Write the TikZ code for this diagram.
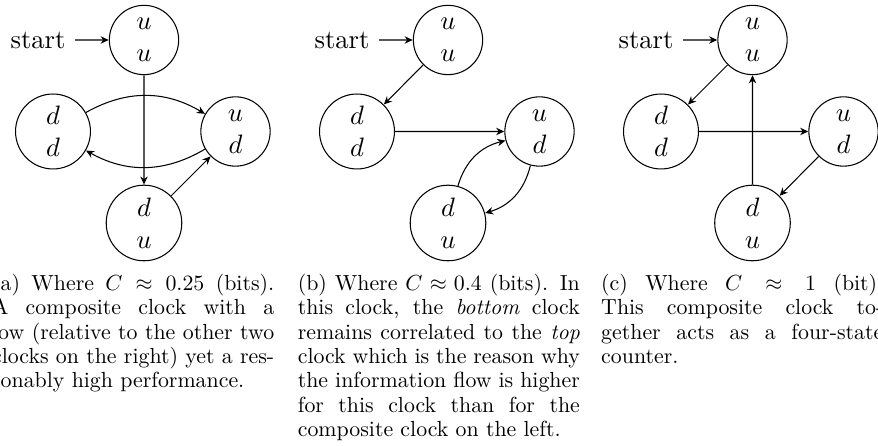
\documentclass[tikz,border=0pt]{standalone}
\usetikzlibrary{arrows.meta}
\begin{document}
\begin{tikzpicture}[x=0.4577pt,y=0.4577pt,
  line width=0.48pt,
  >={Stealth[length=3.7pt,width=3.4pt,inset=1.2pt]},
  st/.style={circle,draw,align=center,scale=1.219,line width=0.48pt},
  starttxt/.style={scale=1.219,anchor=east},
  conn/.style={->},
  captxt/.style={text width=129.1pt,inner sep=0pt,anchor=base west,align=justify,
    font=\fontsize{10}{11.12}\selectfont}]
\useasboundingbox (0,0) rectangle (878,446);

% ---------- (a) ----------
\node[st] (aT) at (144,406) {$u$\\$u$};
\node[st] (aL) at (53,314.5) {$d$\\$d$};
\node[st] (aR) at (235.5,314.5) {$u$\\$d$};
\node[st] (aB) at (144,223) {$d$\\$u$};
\node[starttxt] (aS) at (75,406) {start};
\draw[conn] (aS) -- (aT);
\draw[conn] (aT) -- (aB);
\draw[conn] (aL) to[bend left] (aR);
\draw[conn] (aR) to[bend left] (aL);
\draw[conn] (aB) -- (aR);

% ---------- (b) ----------
\node[st] (bT) at (448,406) {$u$\\$u$};
\node[st] (bL) at (357,314.5) {$d$\\$d$};
\node[st] (bR) at (539.5,314.5) {$u$\\$d$};
\node[st] (bB) at (448,223) {$d$\\$u$};
\node[starttxt] (bS) at (379,406) {start};
\draw[conn] (bS) -- (bT);
\draw[conn] (bT) -- (bL);
\draw[conn] (bL) -- (bR);
\draw[conn] (bB) to[bend left] (bR);
\draw[conn] (bR) to[bend left] (bB);

% ---------- (c) ----------
\node[st] (cT) at (752.5,406) {$u$\\$u$};
\node[st] (cL) at (661,314.5) {$d$\\$d$};
\node[st] (cR) at (843.5,314.5) {$u$\\$d$};
\node[st] (cB) at (752.5,223) {$d$\\$u$};
\node[starttxt] (cS) at (683,406) {start};
\draw[conn] (cS) -- (cT);
\draw[conn] (cT) -- (cL);
\draw[conn] (cL) -- (cR);
\draw[conn] (cR) -- (cB);
\draw[conn] (cB) -- (cT);

% ---------- captions ----------
\node[captxt] (capA) at (-8.4,155.3) {(a) Where $C\approx 0.25$ (bits). A composite clock with a low (relative to the other two clocks on the right) yet a res\-sonably high performance.};
\node[captxt] (capB) at (297.3,155.3) {(b) Where $C\approx 0.4$ (bits). In this clock, the \emph{bottom} clock remains correlated to the \emph{top} clock which is the reason why the information flow is higher for this clock than for the composite clock on the left.};
\node[captxt] (capC) at (600.7,155.3) {(c) Where $C\approx 1$ (bit).\linebreak This composite clock to-\linebreak gether acts as a four-state counter.};
\end{tikzpicture}
\end{document}
